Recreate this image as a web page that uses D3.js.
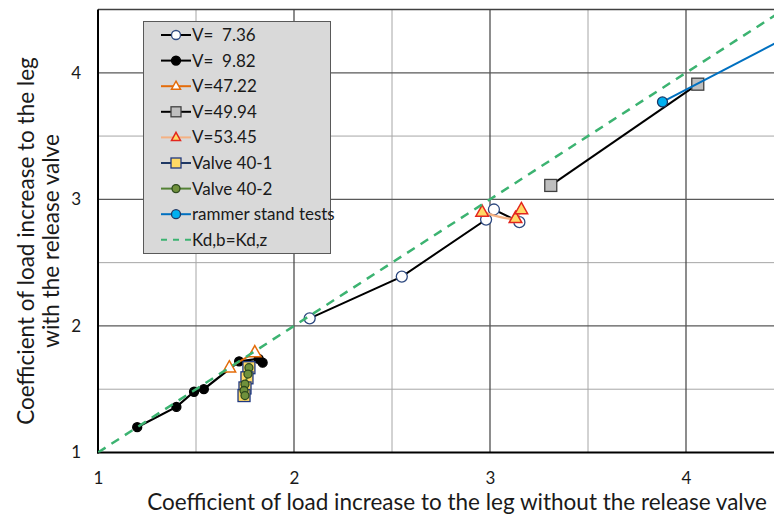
<!DOCTYPE html>
<html><head><meta charset="utf-8">
<script src="https://cdn.jsdelivr.net/npm/d3@7"></script>
<style>
html,body{margin:0;padding:0;background:#fff;}
svg{display:block;}
text{font-family:Lato,"Open Sans",sans-serif;fill:#1a1a1a;}
</style></head><body>
<svg id="c" width="774" height="515"></svg>
<script>
// ---- data ----
const xTicks = [1, 2, 3, 4];
const yTicks = [1, 2, 3, 4];
const gridMinor = [1.5, 2.5, 3.5];
const xTitle = "Coefficient of load increase to the leg without the release valve";
const yTitle1 = "Coefficient of load increase to the leg";
const yTitle2 = "with the release valve";

const v736 = [[2.08, 2.06], [2.55, 2.39], [2.98, 2.84], [3.02, 2.92], [3.15, 2.82]];
const v982 = [[1.20, 1.20], [1.40, 1.36], [1.49, 1.48], [1.54, 1.50], [1.72, 1.72], [1.82, 1.74], [1.84, 1.71]];
const v4722 = [[1.67, 1.67], [1.80, 1.79]];
const v4994 = [[3.31, 3.11], [4.06, 3.91]];
const v5345 = [[2.96, 2.90], [3.13, 2.85], [3.16, 2.92]];
const valve401 = [[1.77, 1.67], [1.76, 1.59], [1.75, 1.51], [1.745, 1.45]];
const valve402 = [[1.77, 1.67], [1.765, 1.62], [1.75, 1.54], [1.745, 1.49], [1.75, 1.45]];
const rammer = [[3.88, 3.77], [4.60, 4.35]];
const kdLine = [[1, 1], [4.5, 4.5]];

const legendLabels = ["V=  7.36", "V=  9.82", "V=47.22", "V=49.94", "V=53.45", "Valve 40-1", "Valve 40-2", "rammer stand tests", "Kd,b=Kd,z"];

// ---- drawing ----
const svg = d3.select("#c");
const x = d3.scaleLinear().domain([1, 4.5]).range([98, 784]);
const y = d3.scaleLinear().domain([1, 4.5]).range([452.5, 9.5]);

svg.append("defs").append("clipPath").attr("id", "clip")
  .append("rect").attr("x", 98).attr("y", 9.5).attr("width", 686).attr("height", 443);

// grid
const g = svg.append("g");
gridMinor.forEach(v => {
  g.append("line").attr("x1", x(v)).attr("x2", x(v)).attr("y1", y(1)).attr("y2", y(4.5)).attr("stroke", "#a6a6a6").attr("stroke-width", 1);
  g.append("line").attr("x1", x(1)).attr("x2", x(4.5)).attr("y1", y(v)).attr("y2", y(v)).attr("stroke", "#a6a6a6").attr("stroke-width", 1);
});
xTicks.slice(1).forEach(v => {
  g.append("line").attr("x1", x(v)).attr("x2", x(v)).attr("y1", y(1)).attr("y2", y(4.5)).attr("stroke", "#404040").attr("stroke-width", 1.2);
});
yTicks.slice(1).forEach(v => {
  g.append("line").attr("x1", x(1)).attr("x2", x(4.5)).attr("y1", y(v)).attr("y2", y(v)).attr("stroke", "#595959").attr("stroke-width", 1.2);
});
g.append("line").attr("x1", x(1)).attr("x2", x(4.5)).attr("y1", y(4.5)).attr("y2", y(4.5)).attr("stroke", "#404040").attr("stroke-width", 1.5);
g.append("line").attr("x1", x(1)).attr("x2", x(1)).attr("y1", y(1) + 1).attr("y2", y(4.5)).attr("stroke", "#000").attr("stroke-width", 2);
g.append("line").attr("x1", x(1) - 1).attr("x2", x(4.5)).attr("y1", y(1)).attr("y2", y(1)).attr("stroke", "#000").attr("stroke-width", 2);

// axes labels via d3 axes
const xAxis = svg.append("g").attr("transform", `translate(0,${y(1) + 16})`)
  .call(d3.axisBottom(x).tickValues(xTicks).tickFormat(d3.format("d")).tickSize(0));
xAxis.select(".domain").remove();
xAxis.selectAll("text").attr("font-size", 17).attr("font-family", "Lato, sans-serif").attr("fill", "#1a1a1a");
const yAxis = svg.append("g").attr("transform", `translate(${x(1) - 14},0)`)
  .call(d3.axisLeft(y).tickValues(yTicks).tickFormat(d3.format("d")).tickSize(0));
yAxis.select(".domain").remove();
yAxis.selectAll("text").attr("font-size", 17).attr("font-family", "Lato, sans-serif").attr("fill", "#1a1a1a");

svg.append("text").attr("x", 457).attr("y", 510).attr("text-anchor", "middle").attr("font-size", 22.5).text(xTitle);
svg.append("text").attr("transform", "translate(34,241) rotate(-90)").attr("text-anchor", "middle").attr("font-size", 22.5).text(yTitle1);
svg.append("text").attr("transform", "translate(59,241) rotate(-90)").attr("text-anchor", "middle").attr("font-size", 22.5).text(yTitle2);

// series
const plot = svg.append("g").attr("clip-path", "url(#clip)");
const line = d3.line().x(d => x(d[0])).y(d => y(d[1]));
const smooth = d3.line().x(d => x(d[0])).y(d => y(d[1])).curve(d3.curveCatmullRom.alpha(0.5));

const series = [
  {data: v736, lc: "#000", lw: 2, m: "circle", r: 5.5, fill: "#fff", stroke: "#2f4a80", curve: line},
  {data: v982, lc: "#000", lw: 2.2, m: "circle", r: 4.5, fill: "#000", stroke: "#000", curve: line},
  {data: v4722, lc: "#e46c0a", lw: 2, m: "triangle", r: 7, fill: "#fff", stroke: "#e46c0a", curve: line},
  {data: v4994, lc: "#000", lw: 2, m: "square", r: 6, fill: "#bfbfbf", stroke: "#404040", curve: line},
  {data: v5345, lc: "#f4b183", lw: 2.5, m: "triangle", r: 7, fill: "#ffd966", stroke: "#e3261e", curve: smooth},
  {data: valve401, lc: "#1f3864", lw: 2, m: "square", r: 6, fill: "#ffd966", stroke: "#1f3880", curve: line},
  {data: valve402, lc: "#548235", lw: 2, m: "circle", r: 4, fill: "#70913c", stroke: "#2e4a1e", curve: line},
  {data: rammer, lc: "#0070c0", lw: 2, m: "circle", r: 5, fill: "#00b0f0", stroke: "#1f3864", curve: line},
];

function drawMarker(sel, s, cx, cy) {
  if (s.m === "circle") {
    sel.append("circle").attr("cx", cx).attr("cy", cy).attr("r", s.r).attr("fill", s.fill).attr("stroke", s.stroke).attr("stroke-width", 1.3);
  } else if (s.m === "square") {
    sel.append("rect").attr("x", cx - s.r).attr("y", cy - s.r).attr("width", 2 * s.r).attr("height", 2 * s.r).attr("fill", s.fill).attr("stroke", s.stroke).attr("stroke-width", 1.3);
  } else {
    const r = s.r;
    sel.append("path").attr("d", `M${cx},${cy - r}L${cx + r * 0.9},${cy + r * 0.6}L${cx - r * 0.9},${cy + r * 0.6}Z`).attr("fill", s.fill).attr("stroke", s.stroke).attr("stroke-width", 1.5);
  }
}

series.forEach(s => {
  plot.append("path").attr("d", s.curve(s.data)).attr("fill", "none").attr("stroke", s.lc).attr("stroke-width", s.lw);
  const mg = plot.append("g");
  s.data.forEach(d => drawMarker(mg, s, x(d[0]), y(d[1])));
});
plot.append("path").attr("d", line(kdLine)).attr("fill", "none").attr("stroke", "#3cb371").attr("stroke-width", 2.5).attr("stroke-dasharray", "9,7");

// legend
const lg = svg.append("g");
lg.append("rect").attr("x", 143.5).attr("y", 21.5).attr("width", 187).attr("height", 232).attr("fill", "#d9d9d9").attr("stroke", "#595959").attr("stroke-width", 1);
const legendSeries = series.concat([{lc: "#3cb371", lw: 2, m: "none", dash: "6,6"}]);
legendLabels.forEach((lab, i) => {
  const cy = 35 + i * 25.6;
  const s = legendSeries[i];
  lg.append("line").attr("x1", 161).attr("x2", 191).attr("y1", cy).attr("y2", cy).attr("stroke", s.lc).attr("stroke-width", 2).attr("stroke-dasharray", s.dash || null);
  if (s.m !== "none") drawMarker(lg, Object.assign({}, s, {r: s.m === "circle" ? Math.min(s.r, 4.5) : 5}), 176, cy);
  lg.append("text").attr("x", 192).attr("y", cy + 6).attr("font-size", 17).style("white-space", "pre").text(lab);
});
</script>
</body></html>
